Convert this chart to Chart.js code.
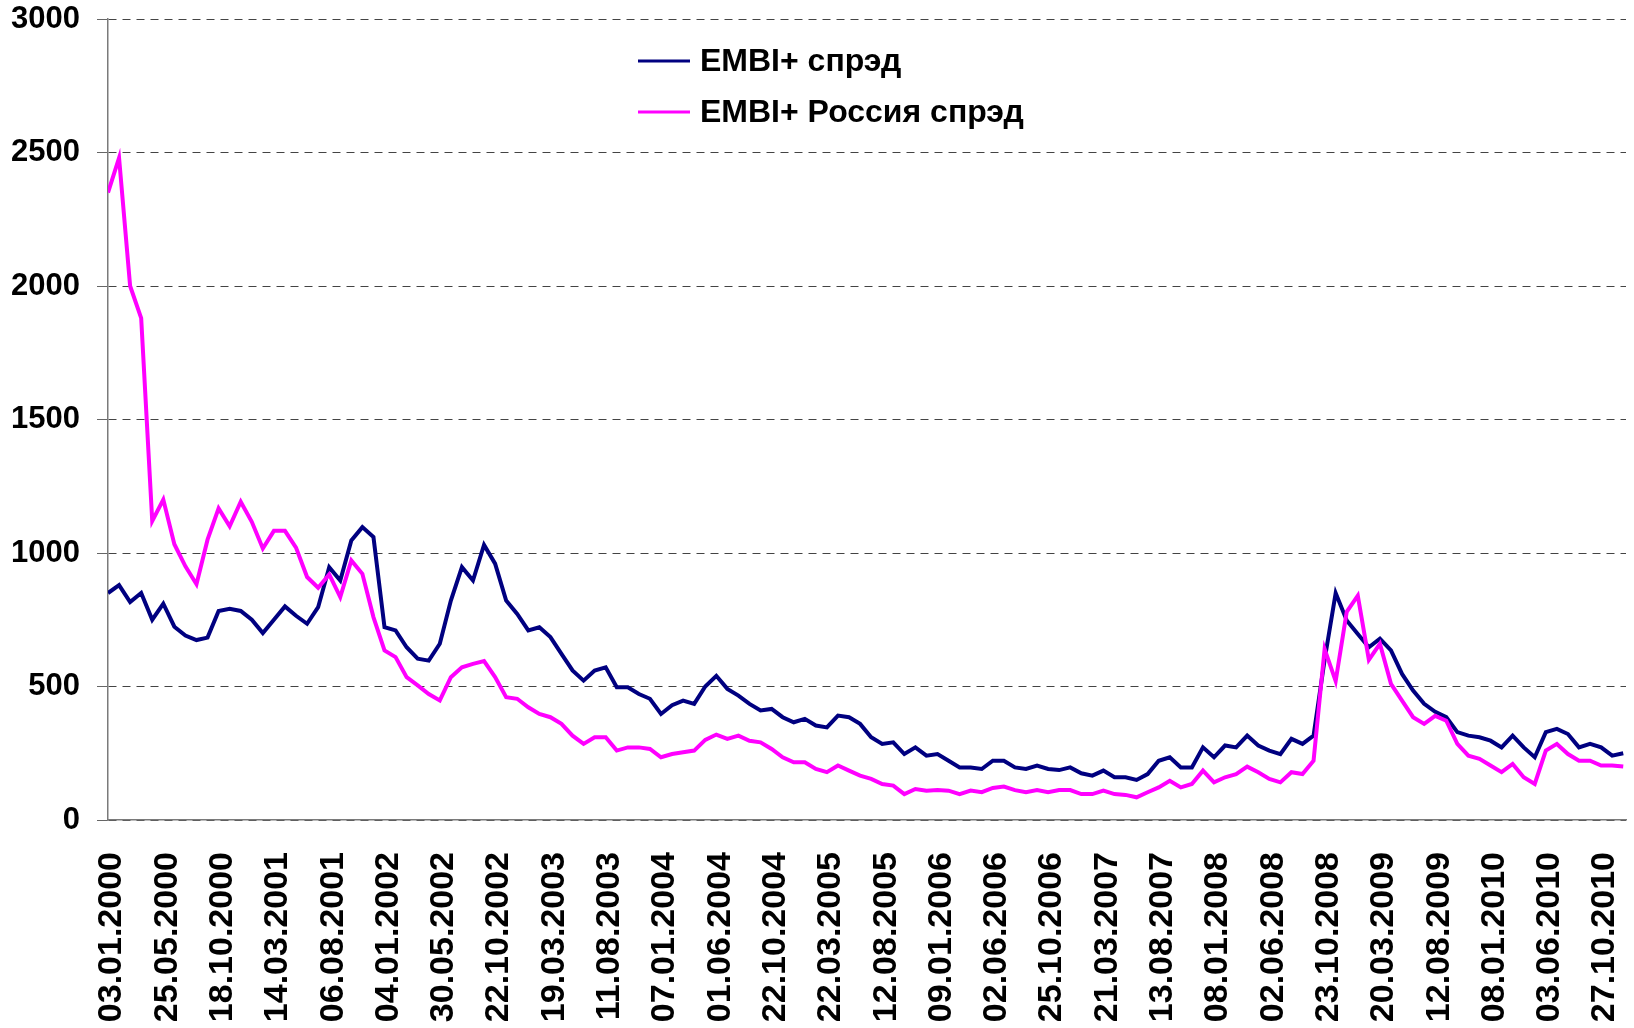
<!DOCTYPE html>
<html>
<head>
<meta charset="utf-8">
<script src="https://cdn.jsdelivr.net/npm/chart.js@4.4.1/dist/chart.umd.min.js"></script>
<style>
    html, body { margin: 0; padding: 0; background: #fff; }
    #wrap { width: 1634px; height: 1028px; }
</style>
</head>
<body>
<div id="wrap"><canvas id="chart"></canvas></div>
<script>
// dates shown under the x axis, one every label interval
const tickLabels = [
    "03.01.2000", "25.05.2000", "18.10.2000", "14.03.2001", "06.08.2001",
    "04.01.2002", "30.05.2002", "22.10.2002", "19.03.2003", "11.08.2003",
    "07.01.2004", "01.06.2004", "22.10.2004", "22.03.2005", "12.08.2005",
    "09.01.2006", "02.06.2006", "25.10.2006", "21.03.2007", "13.08.2007",
    "08.01.2008", "02.06.2008", "23.10.2008", "20.03.2009", "12.08.2009",
    "08.01.2010", "03.06.2010", "27.10.2010"
];

// samples are read every 1/5 of a label interval
const STEP = 0.2;

const embiSpread = [
    850, 880, 816, 850, 750, 810, 724, 691, 674, 683,
    783, 791, 783, 750, 700, 750, 800, 765, 735, 797,
    947, 897, 1047, 1097, 1060, 722, 710, 647, 604, 597,
    660, 822, 947, 897, 1030, 960, 822, 772, 710, 722,
    685, 622, 560, 522, 560, 572, 497, 497, 472, 454,
    397, 430, 447, 435, 500, 540, 491, 466, 435, 410,
    416, 385, 366, 379, 354, 347, 391, 385, 360, 310,
    285, 291, 247, 272, 241, 247, 222, 197, 197, 191,
    222, 222, 197, 191, 204, 191, 187, 197, 175, 166,
    185, 160, 160, 150, 172, 222, 235, 197, 197, 272,
    235, 279, 272, 316, 279, 260, 247, 304, 285, 316,
    600, 850, 747, 697, 647, 679, 635, 547, 485, 435,
    405, 385, 329, 316, 310, 297, 272, 316, 272, 235,
    329, 341, 322, 272, 285, 272, 241, 250
];

const russiaSpread = [
    2350, 2480, 2000, 1880, 1120, 1200, 1033, 950, 883, 1050,
    1167, 1100, 1192, 1117, 1017, 1083, 1083, 1020, 910, 870,
    920, 835, 972, 922, 760, 635, 610, 535, 504, 472,
    448, 535, 572, 585, 595, 535, 460, 454, 422, 397,
    385, 360, 316, 285, 310, 310, 260, 272, 272, 266,
    235, 247, 254, 260, 300, 320, 304, 316, 297, 291,
    266, 235, 216, 216, 191, 179, 204, 185, 166, 154,
    135, 129, 97, 116, 110, 112, 110, 97, 110, 104,
    120, 125, 112, 104, 112, 104, 112, 112, 97, 97,
    110, 97, 94, 85, 104, 122, 147, 122, 135, 185,
    141, 160, 172, 200, 179, 154, 141, 179, 172, 222,
    640, 520, 780, 840, 600, 660, 510, 447, 385, 360,
    390, 372, 285, 241, 229, 204, 179, 210, 160, 135,
    260, 285, 247, 222, 222, 204, 204, 200
];

const FONT = "'Liberation Sans', Arial, sans-serif";
Chart.defaults.font.family = FONT;
Chart.defaults.color = "#000";

function toPoints(values) {
    return values.map((v, i) => ({ x: i * STEP, y: v }));
}

// legend drawn inside the plot, like the original
const legendPlugin = {
    id: "inlineLegend",
    afterDraw(chart) {
        const ctx = chart.ctx;
        ctx.save();
        ctx.font = "bold 32px " + FONT;
        ctx.textBaseline = "middle";
        ctx.fillStyle = "#000";
        chart.data.datasets.forEach((ds, k) => {
            const y = 61 + k * 51;
            ctx.strokeStyle = ds.borderColor;
            ctx.lineWidth = 3;
            ctx.beginPath();
            ctx.moveTo(638, y);
            ctx.lineTo(690, y);
            ctx.stroke();
            ctx.fillText(ds.label, 700, y + 1);
        });
        ctx.restore();
    }
};

new Chart(document.getElementById("chart"), {
    type: "line",
    data: {
        datasets: [
            {
                label: "EMBI+ спрэд",
                data: toPoints(embiSpread),
                borderColor: "#000080",
                borderWidth: 4,
                pointRadius: 0,
                tension: 0,
                order: 1
            },
            {
                label: "EMBI+ Россия спрэд",
                data: toPoints(russiaSpread),
                borderColor: "#FF00FF",
                borderWidth: 4,
                pointRadius: 0,
                tension: 0,
                order: 0
            }
        ]
    },
    options: {
        responsive: true,
        maintainAspectRatio: false,
        animation: false,
        events: [],
        layout: { padding: { top: 19, right: 8, bottom: 0, left: 0 } },
        plugins: {
            legend: { display: false },
            tooltip: { enabled: false }
        },
        scales: {
            x: {
                type: "linear",
                min: 0,
                max: 27.45,
                grid: { display: false, drawTicks: false },
                border: { display: true, color: "#7a7a7a", width: 1.5 },
                afterBuildTicks(scale) {
                    scale.ticks = tickLabels.map((_, k) => ({ value: k }));
                },
                afterFit(scale) {
                    scale.height = 208;
                    scale.paddingLeft = 0;
                    scale.paddingRight = 0;
                },
                ticks: {
                    autoSkip: false,
                    minRotation: 90,
                    maxRotation: 90,
                    padding: 32,
                    labelOffset: 4,
                    font: { size: 34, weight: "bold" },
                    callback: (v) => tickLabels[v]
                }
            },
            y: {
                min: 0,
                max: 3000,
                grid: {
                    color: "#444",
                    lineWidth: 1,
                    tickLength: 11,
                    tickColor: "#666",
                    tickBorderDash: []
                },
                border: { display: true, color: "#7a7a7a", width: 1.5, dash: [8, 6] },
                afterFit(scale) {
                    scale.width = 108;
                    scale.paddingTop = 0;
                    scale.paddingBottom = 0;
                },
                ticks: {
                    stepSize: 500,
                    padding: 17,
                    font: { size: 31, weight: "bold" },
                    callback: (v) => v
                }
            }
        }
    },
    plugins: [legendPlugin]
});
</script>
</body>
</html>
